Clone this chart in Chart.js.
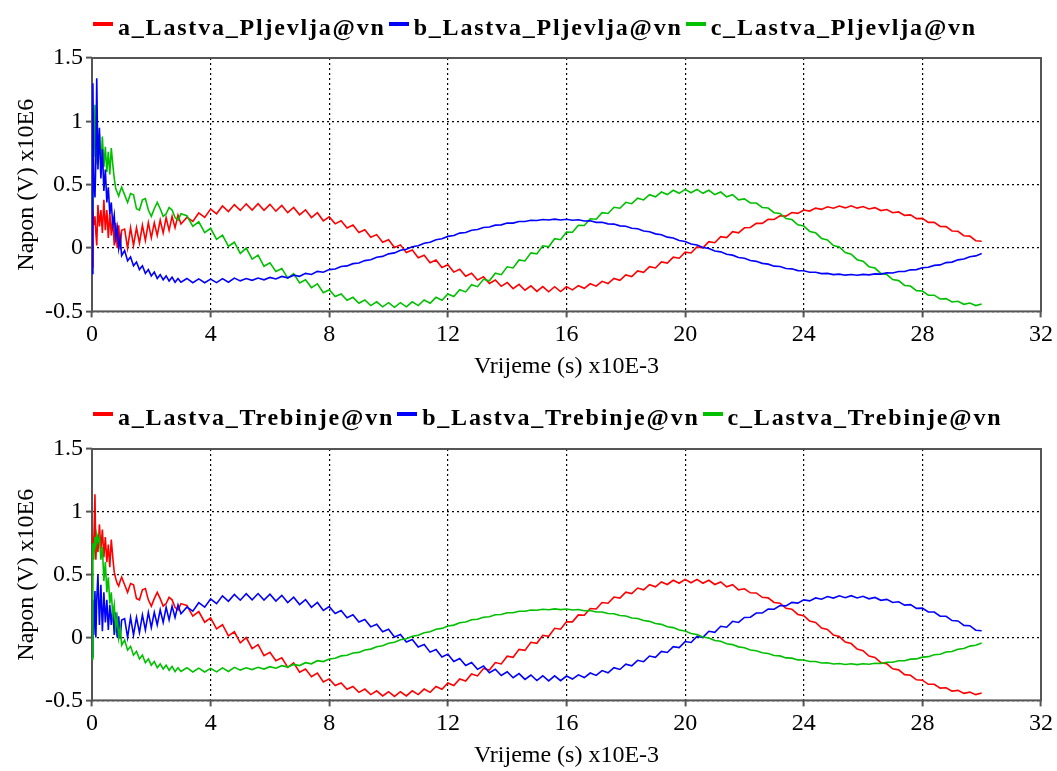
<!DOCTYPE html>
<html>
<head>
<meta charset="utf-8">
<title>Napon - Lastva</title>
<script src="https://cdn.jsdelivr.net/npm/chart.js@4.4.1/dist/chart.umd.min.js"></script>
<style>
  html, body { margin: 0; padding: 0; background: #fff; }
  body { width: 1057px; height: 771px; overflow: hidden; position: relative; font-family: "Liberation Serif", "Times New Roman", serif; }
  .panel { position: absolute; left: 0; width: 1057px; height: 390px; }
  .panel canvas { position: absolute; left: 0; top: 0; }
  .legend { position: absolute; left: 93px; top: 12px; height: 30px; display: flex; align-items: center; white-space: nowrap; }
  .legend .item { display: flex; align-items: center; margin-right: 3px; }
  .legend .swatch { width: 20px; height: 4px; margin-right: 5px; position: relative; top: -3px; }
  .legend .lbl { font-weight: bold; font-size: 24px; letter-spacing: 1.8px; color: #000; }
</style>
</head>
<body>
<div class="panel" style="top:0px">
  <canvas id="chartTop" width="1057" height="390"></canvas>
  <div class="legend" id="legendTop"></div>
</div>
<div class="panel" style="top:390px">
  <canvas id="chartBottom" width="1057" height="390"></canvas>
  <div class="legend" id="legendBottom"></div>
</div>

<script>
// ------- Sample times (ms) -------
const headTimes = [0, 0.03, 0.06, 0.1, 0.13, 0.16, 0.2, 0.25, 0.3, 0.35, 0.4, 0.45, 0.5, 0.55, 0.6, 0.65, 0.7, 0.75, 0.8, 0.85, 0.9, 0.95, 1.0];
const tailTimes = [
  1.1, 1.2, 1.3, 1.4, 1.5, 1.6, 1.7, 1.8, 1.9, 2.0,
  2.1, 2.2, 2.3, 2.4, 2.5, 2.6, 2.7, 2.8, 2.9, 3.0,
  3.2, 3.4, 3.6, 3.8, 4.0, 4.2, 4.4, 4.6, 4.8, 5.0,
  5.2, 5.4, 5.6, 5.8, 6.0, 6.2, 6.4, 6.6, 6.8, 7.0,
  7.2, 7.4, 7.6, 7.8, 8.0, 8.2, 8.4, 8.6, 8.8, 9.0,
  9.2, 9.4, 9.6, 9.8, 10.0, 10.2, 10.4, 10.6, 10.8, 11.0,
  11.2, 11.4, 11.6, 11.8, 12.0, 12.2, 12.4, 12.6, 12.8, 13.0,
  13.2, 13.4, 13.6, 13.8, 14.0, 14.2, 14.4, 14.6, 14.8, 15.0,
  15.2, 15.4, 15.6, 15.8, 16.0, 16.2, 16.4, 16.6, 16.8, 17.0,
  17.2, 17.4, 17.6, 17.8, 18.0, 18.2, 18.4, 18.6, 18.8, 19.0,
  19.2, 19.4, 19.6, 19.8, 20.0, 20.2, 20.4, 20.6, 20.8, 21.0,
  21.2, 21.4, 21.6, 21.8, 22.0, 22.2, 22.4, 22.6, 22.8, 23.0,
  23.2, 23.4, 23.6, 23.8, 24.0, 24.2, 24.4, 24.6, 24.8, 25.0,
  25.2, 25.4, 25.6, 25.8, 26.0, 26.2, 26.4, 26.6, 26.8, 27.0,
  27.2, 27.4, 27.6, 27.8, 28.0, 28.2, 28.4, 28.6, 28.8, 29.0,
  29.2, 29.4, 29.6, 29.8, 30.0
];

// ------- Voltages (x10E6 V) -------
// first millisecond of each trace (switching transient)
const topRedHead    = [-0.15, 0.3, 0.18, 0.25, 0.12, 0.02, 0.34, 0.17, 0.3, 0.12, 0.38, 0.14, 0.3, 0.08, 0.28, 0.1, 0.24, 0.02, 0.2, 0.0, 0.18, -0.01, 0.14];
const topBlueHead   = [-0.2, 1.3, 0.55, 0.4, 0.7, 1.34, 0.62, 0.95, 0.55, 0.78, 0.45, 0.62, 0.36, 0.48, 0.27, 0.36, 0.18, 0.26, 0.08, 0.16, 0.0, 0.08, -0.06];
const topGreenHead  = [0.3, 0.8, 0.72, 1.13, 0.66, 0.8, 0.7, 0.9, 0.66, 0.88, 0.64, 0.8, 0.6, 0.76, 0.58, 0.79, 0.66, 0.55, 0.47, 0.44, 0.41, 0.45, 0.48];
const botRedHead    = [0.72, 0.78, 0.75, 1.14, 0.62, 0.82, 0.68, 0.9, 0.7, 0.86, 0.64, 0.8, 0.6, 0.74, 0.56, 0.78, 0.64, 0.52, 0.47, 0.43, 0.41, 0.45, 0.48];
const botBlueHead   = [-0.15, 0.3, 0.02, 0.37, 0.0, 0.3, 0.5, 0.1, 0.42, 0.05, 0.36, 0.12, 0.3, 0.06, 0.26, 0.1, 0.24, 0.02, 0.2, 0.0, 0.17, -0.01, 0.14];
const botGreenHead  = [-0.17, 0.75, 0.62, 0.8, 0.74, 0.82, 0.76, 0.8, 0.62, 0.72, 0.45, 0.6, 0.36, 0.48, 0.27, 0.36, 0.18, 0.26, 0.08, 0.16, 0.0, 0.08, -0.06];

// rest of the record, one list per phase (shared by both busbars)
const phaseATail = [
  0.15, 0.0, 0.16, 0.02, 0.16, 0.04, 0.18, 0.06, 0.2, 0.08,
  0.2, 0.1, 0.22, 0.12, 0.24, 0.14, 0.25, 0.16, 0.26, 0.19,
  0.242, 0.21, 0.277, 0.242, 0.307, 0.27, 0.332, 0.288, 0.343, 0.297,
  0.349, 0.3, 0.35, 0.298, 0.345, 0.291, 0.336, 0.279, 0.321, 0.262,
  0.302, 0.241, 0.279, 0.215, 0.246, 0.191, 0.215, 0.158, 0.181, 0.123,
  0.144, 0.085, 0.106, 0.046, 0.066, 0.005, 0.025, -0.035, -0.016, -0.076,
  -0.056, -0.116, -0.095, -0.154, -0.132, -0.19, -0.167, -0.223, -0.199, -0.253,
  -0.227, -0.28, -0.252, -0.302, -0.272, -0.32, -0.287, -0.333, -0.298, -0.342,
  -0.304, -0.345, -0.305, -0.343, -0.306, -0.33, -0.297, -0.318, -0.282, -0.301,
  -0.263, -0.28, -0.24, -0.254, -0.212, -0.225, -0.181, -0.192, -0.147, -0.157,
  -0.11, -0.119, -0.072, -0.08, -0.032, -0.039, 0.009, 0.001, 0.05, 0.042,
  0.09, 0.082, 0.129, 0.12, 0.16, 0.162, 0.195, 0.195, 0.227, 0.225,
  0.255, 0.252, 0.28, 0.274, 0.3, 0.292, 0.315, 0.305, 0.326, 0.314,
  0.332, 0.317, 0.333, 0.315, 0.328, 0.308, 0.319, 0.296, 0.304, 0.279,
  0.285, 0.258, 0.262, 0.232, 0.234, 0.203, 0.203, 0.17, 0.169, 0.135,
  0.132, 0.097, 0.094, 0.058, 0.054
];
const phaseBTail = [
  -0.02, -0.1, -0.07, -0.14, -0.11, -0.17, -0.14, -0.2, -0.17, -0.22,
  -0.19, -0.24, -0.21, -0.25, -0.22, -0.26, -0.23, -0.27, -0.24, -0.27,
  -0.24, -0.274, -0.243, -0.274, -0.245, -0.273, -0.241, -0.27, -0.237, -0.259,
  -0.241, -0.255, -0.237, -0.251, -0.232, -0.244, -0.224, -0.235, -0.214, -0.223,
  -0.2, -0.209, -0.184, -0.191, -0.17, -0.165, -0.146, -0.141, -0.123, -0.118,
  -0.099, -0.092, -0.073, -0.066, -0.046, -0.038, -0.018, -0.01, 0.01, 0.018,
  0.038, 0.046, 0.066, 0.073, 0.092, 0.099, 0.118, 0.123, 0.141, 0.146,
  0.162, 0.166, 0.181, 0.183, 0.197, 0.197, 0.209, 0.209, 0.219, 0.217,
  0.225, 0.221, 0.228, 0.222, 0.227, 0.219, 0.223, 0.213, 0.215, 0.203,
  0.203, 0.191, 0.189, 0.175, 0.172, 0.156, 0.152, 0.135, 0.129, 0.112,
  0.105, 0.086, 0.079, 0.06, 0.052, 0.032, 0.024, 0.004, -0.004, -0.024,
  -0.03, -0.049, -0.056, -0.074, -0.081, -0.099, -0.105, -0.121, -0.127, -0.143,
  -0.146, -0.162, -0.164, -0.178, -0.179, -0.191, -0.191, -0.202, -0.2, -0.21,
  -0.206, -0.214, -0.209, -0.215, -0.208, -0.212, -0.204, -0.206, -0.196, -0.197,
  -0.185, -0.185, -0.172, -0.17, -0.156, -0.152, -0.137, -0.133, -0.115, -0.111,
  -0.093, -0.087, -0.068, -0.062, -0.043
];
const phaseCTail = [
  0.42, 0.36, 0.43, 0.42, 0.31, 0.3, 0.38, 0.39, 0.3, 0.25,
  0.31, 0.36, 0.31, 0.25, 0.27, 0.32, 0.3, 0.24, 0.22, 0.27,
  0.255, 0.171, 0.207, 0.122, 0.156, 0.069, 0.102, 0.014, 0.046, -0.042,
  0.0, -0.088, -0.056, -0.144, -0.117, -0.184, -0.161, -0.237, -0.202, -0.276,
  -0.25, -0.312, -0.283, -0.353, -0.329, -0.382, -0.362, -0.412, -0.389, -0.436,
  -0.41, -0.454, -0.424, -0.464, -0.431, -0.468, -0.431, -0.464, -0.424, -0.454,
  -0.41, -0.436, -0.389, -0.412, -0.362, -0.382, -0.329, -0.346, -0.29, -0.305,
  -0.247, -0.259, -0.199, -0.21, -0.148, -0.157, -0.094, -0.102, -0.038, -0.046,
  0.018, 0.01, 0.074, 0.066, 0.126, 0.125, 0.18, 0.178, 0.231, 0.227,
  0.279, 0.273, 0.322, 0.314, 0.361, 0.35, 0.394, 0.38, 0.421, 0.404,
  0.442, 0.422, 0.456, 0.432, 0.463, 0.436, 0.463, 0.432, 0.456, 0.422,
  0.442, 0.404, 0.421, 0.38, 0.388, 0.356, 0.355, 0.32, 0.316, 0.279,
  0.273, 0.233, 0.225, 0.184, 0.174, 0.131, 0.12, 0.076, 0.064, 0.02,
  0.008, -0.036, -0.048, -0.092, -0.104, -0.147, -0.158, -0.2, -0.209, -0.249,
  -0.257, -0.295, -0.3, -0.336, -0.339, -0.372, -0.372, -0.402, -0.399, -0.426,
  -0.42, -0.444, -0.434, -0.454, -0.441
];

// ------- Labels / ticks -------
const topNames = ["a_Lastva_Pljevlja@vn", "b_Lastva_Pljevlja@vn", "c_Lastva_Pljevlja@vn"];
const bottomNames = ["a_Lastva_Trebinje@vn", "b_Lastva_Trebinje@vn", "c_Lastva_Trebinje@vn"];
const seriesColors = ["#ff0000", "#0000ff", "#00c000"];
const xTitle = "Vrijeme (s) x10E-3";
const yTitle = "Napon (V) x10E6";

// ------- Helpers -------
const timesMs = headTimes.concat(tailTimes);

function toPoints(head, tail) {
  const ys = head.concat(tail);
  return timesMs.map((t, i) => ({ x: t, y: ys[i] }));
}

function buildLegend(el, names) {
  el.innerHTML = names.map((n, i) =>
    `<span class="item"><span class="swatch" style="background:${seriesColors[i]}"></span><span class="lbl">${n}</span></span>`
  ).join("");
}

// solid frame round the plot area, under the traces
const framePlugin = {
  id: "frame",
  beforeDatasetsDraw(chart) {
    const { ctx, chartArea: a } = chart;
    ctx.save();
    ctx.strokeStyle = "#555";
    ctx.lineWidth = 2;
    ctx.strokeRect(a.left, a.top, a.right - a.left, a.bottom - a.top);
    ctx.restore();
  }
};

const axisFont = { family: "'Liberation Serif', 'Times New Roman', serif", size: 24 };

function makeDataset(name, color, points, order) {
  return {
    label: name,
    data: points,
    borderColor: color,
    backgroundColor: color,
    borderWidth: 1.6,
    pointRadius: 0,
    tension: 0,
    order: order
  };
}

function buildOptions(padTop, padBottom) {
  const grid = {
    color: "#000",
    lineWidth: 1.2,
    tickColor: "#555",
    tickWidth: 2,
    tickLength: 6,
    tickBorderDash: []
  };
  return {
    responsive: false,
    devicePixelRatio: 1,
    animation: false,
    layout: { padding: { top: padTop, bottom: padBottom, left: 0, right: 16 } },
    plugins: { legend: { display: false }, tooltip: { enabled: false } },
    scales: {
      x: {
        type: "linear",
        min: 0,
        max: 32,
        grid: grid,
        border: { display: false, dash: [2, 3] },
        ticks: { stepSize: 4, color: "#000", font: axisFont, padding: 3, maxRotation: 0, callback: (v) => String(v) },
        title: { display: true, text: xTitle, color: "#000", font: axisFont, padding: { top: 0, bottom: 8 } }
      },
      y: {
        min: -0.5,
        max: 1.5,
        afterFit: (s) => { s.width = 92; },
        grid: grid,
        border: { display: false, dash: [2, 3] },
        ticks: { stepSize: 0.5, color: "#000", font: axisFont, padding: 3, callback: (v) => String(v) },
        title: { display: true, text: yTitle, color: "#000", font: axisFont, padding: { top: 12, bottom: 4 } }
      }
    }
  };
}

// ------- Charts -------
window.addEventListener("DOMContentLoaded", () => {
  buildLegend(document.getElementById("legendTop"), topNames);
  buildLegend(document.getElementById("legendBottom"), bottomNames);

  new Chart(document.getElementById("chartTop"), {
    type: "line",
    data: {
      datasets: [
        makeDataset(topNames[0], seriesColors[0], toPoints(topRedHead, phaseATail), 2),
        makeDataset(topNames[1], seriesColors[1], toPoints(topBlueHead, phaseBTail), 0),
        makeDataset(topNames[2], seriesColors[2], toPoints(topGreenHead, phaseCTail), 1)
      ]
    },
    options: buildOptions(58, 1),
    plugins: [framePlugin]
  });

  new Chart(document.getElementById("chartBottom"), {
    type: "line",
    data: {
      datasets: [
        makeDataset(bottomNames[0], seriesColors[0], toPoints(botRedHead, phaseCTail), 2),
        makeDataset(bottomNames[1], seriesColors[1], toPoints(botBlueHead, phaseATail), 1),
        makeDataset(bottomNames[2], seriesColors[2], toPoints(botGreenHead, phaseBTail), 0)
      ]
    },
    options: buildOptions(59, 2),
    plugins: [framePlugin]
  });
});
</script>
</body>
</html>
